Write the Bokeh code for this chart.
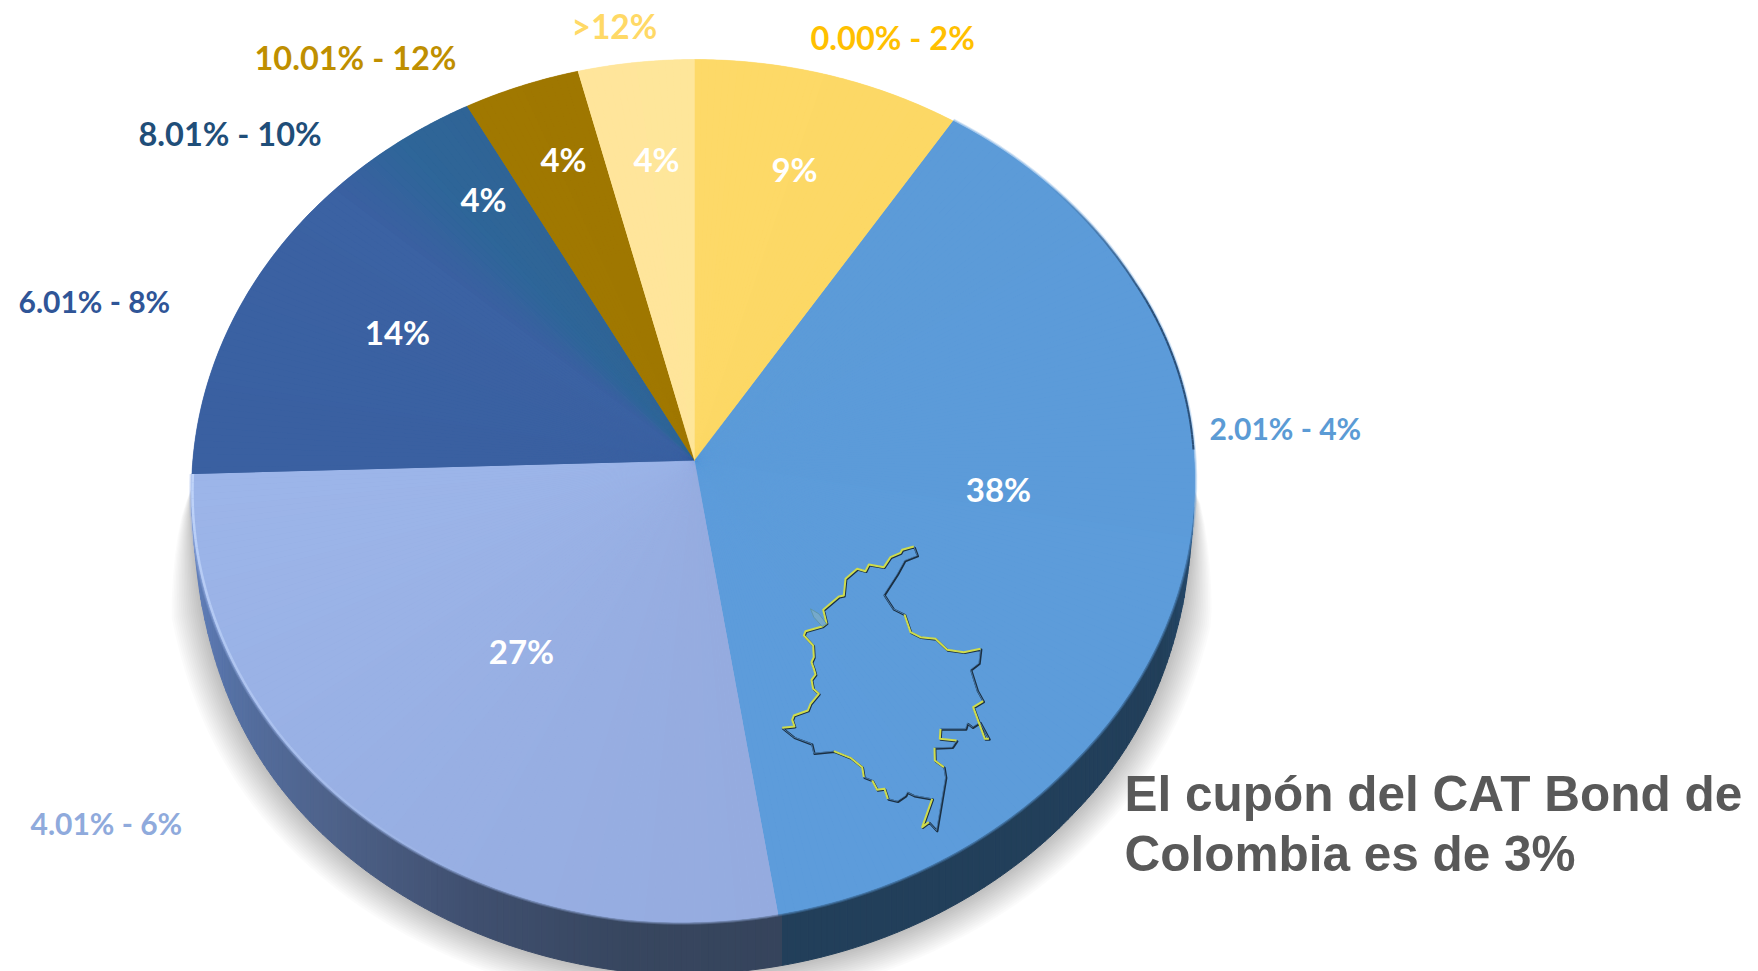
import math
from bokeh.plotting import figure
from bokeh.models import Range1d
from bokeh.core.properties import value
from bokeh.embed import file_html
from bokeh.resources import INLINE

# ---- chart data ----
categories = ["0.00% - 2%", "2.01% - 4%", "4.01% - 6%", "6.01% - 8%", "8.01% - 10%", "10.01% - 12%", ">12%"]
shares = [9.2, 38.3, 27.0, 13.5, 4.0, 4.0, 4.0]
share_labels = ["9%", "38%", "27%", "14%", "4%", "4%", "4%"]
label_colors = ["#FFC000", "#5B9BD5", "#8FAADC", "#2F5597", "#1F4E79", "#BF8F00", "#FFD966"]
face_start = ["#FDD968", "#5C9BD8", "#95ABDF", "#3A60A1", "#2E6699", "#A07800", "#FFE59B"]
face_end = ["#FCD865", "#5D9CDB", "#9CB5E9", "#3B62A3", "#2F6496", "#9F7700", "#FEE69A"]
callout = ["El cupón del CAT Bond de", "Colombia es de 3%"]

# label placement
cat_x = [810, 1209, 30, 18, 138, 254, 571]
cat_y = [37, 427, 822, 300, 133, 57, 25]
cat_size = ["32.5px", "30px", "30px", "30px", "32.5px", "32.5px", "33.5px"]
pct_x = [794, 998, 521, 397, 483, 563, 656]
pct_y = [168, 488, 650, 331, 198, 158, 158]
callout_y = [793, 853]

# outline of Colombia, relative to its little box (tripled pixels)
map_x = [490,455,450,420,400,355,345,320,285,280,265,218,228,215,165,160,188,190,183,190,195,183,188,205,180,172,130,125,132,95,130,183,190,250,300,335,340,365,380,402,412,440,465,470,490,545,515,535,558,585,580,553,552,605,618,568,570,645,650,665,688,715,703,668,698,680,660,685,690,640,590,555,510,480,462,428,400,440,462,500,490]
map_y = [78,88,97,110,140,132,152,145,175,225,228,268,308,318,332,345,375,410,425,445,462,478,505,520,550,570,585,598,618,622,650,670,698,692,712,740,770,780,808,805,835,842,825,815,825,835,920,905,930,770,740,720,682,680,660,655,625,625,608,620,605,655,655,560,542,510,447,428,385,395,388,355,350,335,282,265,222,160,120,105,78]
map_yellow_spans = [(0, 29), (33, 36), (37, 40), (45, 47), (50, 52), (54, 56), (61, 64), (68, 74)]
sliver_x = [180, 205, 228, 215, 190, 180]
sliver_y = [265, 280, 310, 318, 290, 265]

# ---- geometry ----
CX, AY = 694.0, 460.0
A, B, K = 501.7, 429.8, 0.0718
EY = 491.0
DEPTH = 52.0


def rim(pct):
    t = 2 * math.pi * pct / 100.0
    u, v = math.sin(t), math.cos(t)
    d = 1 + K * v
    # the lower right of the rim sits a little higher than a true ellipse
    if 18 < pct < 25:
        lift = 11 * (pct - 18) / 7
    elif 25 <= pct <= 37:
        lift = 11
    elif 37 < pct < 52:
        lift = 11 * (52 - pct) / 15
    else:
        lift = 0
    return CX + A * u / d - lift * 0.25, AY - B * v / d - lift


def wall_depth(x, y):
    w = min(1.0, abs(x - CX) / 503.0)
    fade = min(1.0, max(0.0, (y - EY - 20) / 60.0))
    return DEPTH * max(0.0, 1 - w ** 16) ** 0.55 * fade ** 0.5


def hex2rgb(c):
    return tuple(int(c[i:i + 2], 16) for i in (1, 3, 5))


def mix(c0, c1, w):
    a, b = hex2rgb(c0), hex2rgb(c1)
    return "#%02x%02x%02x" % tuple(round(a[i] + (b[i] - a[i]) * w) for i in range(3))


p = figure(width=1758, height=971, x_range=Range1d(0, 1758), y_range=Range1d(971, 0),
           output_backend="svg", toolbar_location=None, min_border=0,
           x_axis_location=None, y_axis_location=None, background_fill_color="white",
           border_fill_color="white")
p.grid.visible = False
p.outline_line_color = None

cum = [0.0]
for s in shares:
    cum.append(cum[-1] + s)

# ---- soft shadow ----
for k in range(32, 0, -2):
    xs, ys = [], []
    f = 24.0
    while f <= 76.0:
        x, y = rim(f)
        d = wall_depth(x, y)
        s = min(1.0, max(0.0, (y - EY) / 90.0)) ** 0.8
        nx, ny = (x - CX) / 503.0, (y + d - EY) / 480.0
        xs.append(x + k * s * nx)
        ys.append(y + d + k * s * ny)
        f += 0.5
    p.patch(xs, ys, fill_color="#000000", fill_alpha=0.015, line_color=None)

# ---- wall ----
wall_stops = [(47.5, "#36445C"), (52, "#37465F"), (57, "#405070"), (62, "#4E628A"), (68, "#5672A6"), (74.5, "#6C8ACB")]


def wall_color(f):
    if f < 47.5:
        return mix("#2A5A8A", "#223F5A", min(1, max(0, (f - 22) / 10)))
    if f >= 74.5:
        return wall_stops[-1][1]
    for (f0, c0), (f1, c1) in zip(wall_stops, wall_stops[1:]):
        if f0 <= f <= f1:
            return mix(c0, c1, (f - f0) / (f1 - f0))
    return wall_stops[0][1]


wxs, wys, wcs = [], [], []
f = 24.0
while f < 76.0:
    g = f + 0.2
    x0, y0 = rim(f)
    x1, y1 = rim(g)
    d0, d1 = wall_depth(x0, y0), wall_depth(x1, y1)
    if d0 > 0 or d1 > 0:
        wxs.append([x0, x1, x1, x0])
        wys.append([y0 - 2, y1 - 2, y1 + d1, y0 + d0])
        wcs.append(wall_color(f + 0.1))
    f = g
p.patches(wxs, wys, fill_color=wcs, line_color=wcs, line_width=1)

# ---- soft edge of the top face ----
for width, alpha in [(5, 0.25), (3, 0.4)]:
    for i, col in ((1, face_end[1]), (2, face_end[2])):
        pts = [rim(cum[i] + (cum[i + 1] - cum[i]) * j / 80) for j in range(81)]
        p.line([q[0] for q in pts], [q[1] for q in pts], line_color=col, line_alpha=alpha, line_width=width)

# ---- top face: a solid slice, then thin wedges with small colour shifts ----
STEP = 0.25
BLEND_AT, BLEND_W = cum[4], 1.4
bxs, bys, bcs = [], [], []
fxs, fys, fcs = [], [], []
for i, s in enumerate(shares):
    arc = [rim(cum[i] + s * q / 60) for q in range(61)]
    bxs.append([CX] + [a[0] for a in arc])
    bys.append([AY] + [a[1] for a in arc])
    bcs.append(mix(face_start[i], face_end[i], 0.5))
    n = max(2, round(s / STEP))
    for j in range(n):
        f0 = cum[i] + s * j / n
        f1 = cum[i] + s * (j + 1) / n
        mid = (f0 + f1) / 2
        col = mix(face_start[i], face_end[i], (j + 0.5) / n)
        if abs(mid - BLEND_AT) < BLEND_W:
            col = mix(face_start[3], face_start[4], (mid - BLEND_AT + BLEND_W) / (2 * BLEND_W))
        arc = [rim(f0 + (f1 - f0) * q / 2) for q in range(3)]
        fxs.append([CX] + [a[0] for a in arc])
        fys.append([AY] + [a[1] for a in arc])
        fcs.append(col)
p.patches(bxs, bys, fill_color=bcs, line_color=bcs, line_width=0.5)
p.patches(fxs, fys, fill_color=fcs, line_color=None)

# ---- rim highlight on the left, dark rim on the right ----
n = 60
for j in range(n):
    f0 = cum[3] - 18 * (j / n)
    f1 = cum[3] - 18 * ((j + 1) / n)
    a = rim(f0)
    b = rim(f1)
    p.line([a[0] + 1, b[0] + 1], [a[1], b[1]], line_color="#C2D6FA", line_alpha=0.9 * (1 - j / n), line_width=2.5)
pts = [rim(13 + 12 * j / 60) for j in range(61)]
for j in range(60):
    p.line([pts[j][0], pts[j + 1][0]], [pts[j][1], pts[j + 1][1]], line_color="#2A4F78",
           line_alpha=min(1, j / 30), line_width=2)

# ---- map of Colombia ----
mx = [750 + v / 3 for v in map_x]
my = [520 + v / 3 for v in map_y]
p.line([v + 0.8 for v in mx], [v + 0.8 for v in my], line_color="#1B2F42", line_width=2.2, line_join="round")
p.line(mx, my, line_color="#4F86BE", line_width=0.8)
for a, b in map_yellow_spans:
    p.line(mx[a:b + 1], my[a:b + 1], line_color="#CFDC4C", line_width=2, line_join="round")
p.patch([750 + v / 3 for v in sliver_x], [520 + v / 3 for v in sliver_y],
        fill_color="#75A9CC", line_color="#5C93A0", line_width=0.8)

# ---- texts ----
p.text(cat_x, cat_y, text=categories, text_color=label_colors, text_font=value("Lato"),
       text_font_style="bold", text_font_size=cat_size, text_align="left", text_baseline="middle")
p.text(pct_x, pct_y, text=share_labels, text_color="#FFFFFF", text_font=value("Lato"),
       text_font_style="bold", text_font_size="33px", text_align="center", text_baseline="middle")
p.text([1124, 1124], callout_y, text=callout, text_color="#595959", text_font=value("Liberation Sans"),
       text_font_style="bold", text_font_size="49.5px", text_align="left", text_baseline="alphabetic")

open("out.html", "w").write(file_html(p, INLINE))
